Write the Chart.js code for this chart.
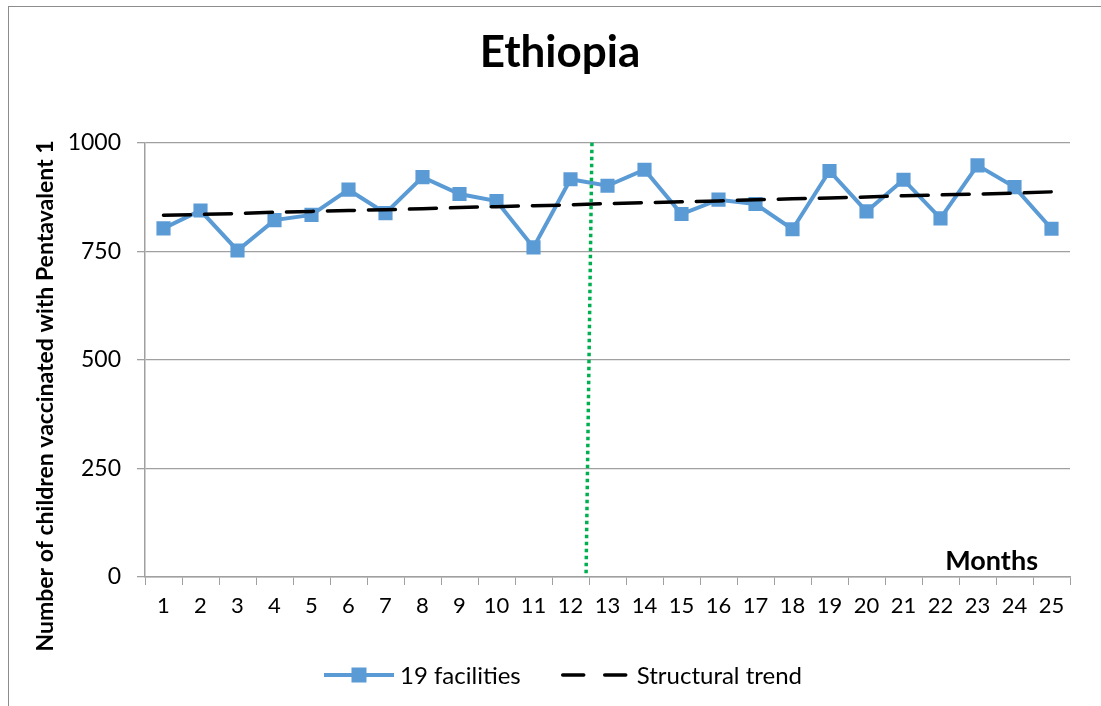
<!DOCTYPE html>
<html>
<head>
<meta charset="utf-8">
<script src="https://cdn.jsdelivr.net/npm/chart.js@4/dist/chart.umd.min.js"></script>
<style>
  html, body { margin: 0; padding: 0; background: #fff; overflow: hidden; }
  #frame { position: absolute; left: 8px; top: 6px; width: 1200px; height: 800px;
           border-top: 1.5px solid #8c8c8c; border-left: 1.5px solid #8c8c8c; pointer-events: none; }
  canvas { position: absolute; left: 0; top: 0; }
</style>
</head>
<body>
<canvas id="chart" width="1101" height="706"></canvas>
<div id="frame"></div>
<script>
const months = ['1','2','3','4','5','6','7','8','9','10','11','12','13',
                '14','15','16','17','18','19','20','21','22','23','24','25'];
const facilities = [803, 844, 752, 822, 834, 892, 838, 921, 882, 866, 759, 916, 901,
                    938, 836, 869, 859, 801, 935, 842, 915, 826, 948, 898, 802];
const structuralTrend = [833, 835, 837, 840, 842, 844, 846, 848, 851, 853, 855, 857, 860,
                         862, 864, 866, 869, 871, 873, 875, 878, 880, 882, 884, 887];
const yTicks = [0, 250, 500, 750, 1000];
// intervention line sits between month 12 and 13 (slightly slanted in the original)
const interventionTop = 12.58;
const interventionBottom = 12.42;

const FONT = 'Lato, "Open Sans", sans-serif';
const blue = '#5b9bd5';
const gray = '#a0a0a0';

// extra labels + legend drawn on the canvas
const annotations = {
    id: 'annotations',
    afterDatasetsDraw(chart) {
        const { ctx, scales } = chart;
        ctx.save();
        // green dotted intervention line
        const xTop = scales.x.getPixelForValue(interventionTop - 1);
        const xBot = scales.x.getPixelForValue(interventionBottom - 1);
        ctx.strokeStyle = '#00b050';
        ctx.lineWidth = 3.5;
        ctx.setLineDash([3.5, 3.5]);
        ctx.beginPath();
        ctx.moveTo(xTop, scales.y.getPixelForValue(1000));
        ctx.lineTo(xBot, scales.y.getPixelForValue(0));
        ctx.stroke();
        ctx.restore();
    },
    afterDraw(chart) {
        const { ctx, chartArea } = chart;
        ctx.save();
        ctx.fillStyle = '#000';

        // "Months" inside the plot
        ctx.font = 'bold 27px ' + FONT;
        ctx.textAlign = 'right';
        ctx.textBaseline = 'middle';
        ctx.fillText('Months', chartArea.right - 32, chartArea.bottom - 16);

        // y axis title
        ctx.save();
        ctx.translate(46, 396);
        ctx.rotate(-Math.PI / 2);
        ctx.textAlign = 'center';
        ctx.font = 'bold 23px ' + FONT;
        ctx.fillText('Number of children vaccinated with Pentavalent 1', 0, 0);
        ctx.restore();

        // legend
        const ds = chart.data.datasets;
        ctx.font = '24px ' + FONT;
        ctx.textAlign = 'left';
        const sample = 70, gap = 6, spacing = 40;
        const w0 = sample + gap + ctx.measureText(ds[0].label).width;
        const w1 = sample + gap + ctx.measureText(ds[1].label).width;
        let x = 563 - (w0 + spacing + w1) / 2;
        const y = 675;

        ctx.strokeStyle = ds[0].borderColor;
        ctx.lineWidth = ds[0].borderWidth;
        ctx.beginPath();
        ctx.moveTo(x, y);
        ctx.lineTo(x + sample, y);
        ctx.stroke();
        ctx.fillStyle = ds[0].pointBackgroundColor;
        ctx.fillRect(x + sample / 2 - 7.5, y - 7.5, 15, 15);
        ctx.fillStyle = '#000';
        ctx.fillText(ds[0].label, x + sample + gap, y + 1);

        x += w0 + spacing;
        ctx.strokeStyle = ds[1].borderColor;
        ctx.lineWidth = ds[1].borderWidth;
        ctx.lineCap = 'round';
        ctx.setLineDash([21, 21]);
        ctx.beginPath();
        ctx.moveTo(x + 2, y);
        ctx.lineTo(x + sample - 2, y);
        ctx.stroke();
        ctx.fillText(ds[1].label, x + sample + gap, y + 1);
        ctx.restore();
    }
};

new Chart(document.getElementById('chart'), {
    type: 'line',
    data: {
        labels: months,
        datasets: [
            {
                label: '19 facilities',
                data: facilities,
                borderColor: blue,
                borderWidth: 4,
                pointStyle: 'rect',
                pointRadius: 10,
                pointBackgroundColor: blue,
                pointBorderColor: blue,
                pointBorderWidth: 0,
                tension: 0,
                order: 2
            },
            {
                label: 'Structural trend',
                data: structuralTrend,
                borderColor: '#000',
                borderWidth: 3.5,
                borderDash: [27, 14],
                borderCapStyle: 'round',
                pointRadius: 0,
                tension: 0,
                order: 1
            }
        ]
    },
    options: {
        responsive: false,
        animation: false,
        layout: { padding: { left: 50, right: 31, top: 0, bottom: 79 } },
        plugins: {
            legend: { display: false },
            tooltip: { enabled: false },
            title: {
                display: true,
                text: 'Ethiopia',
                color: '#000',
                font: { family: FONT, size: 44, weight: 'bold', lineHeight: 1.2 },
                padding: { top: 26, bottom: 64 }
            }
        },
        scales: {
            x: {
                offset: true,
                afterFit: s => { s.height = 50; },
                grid: {
                    offset: true,
                    drawOnChartArea: false,
                    drawTicks: true,
                    tickLength: 8,
                    color: gray
                },
                border: { color: gray, width: 1.5 },
                ticks: {
                    color: '#000',
                    padding: 8,
                    maxRotation: 0,
                    autoSkip: false,
                    font: { family: FONT, size: 22 }
                }
            },
            y: {
                min: 0,
                max: 1000,
                afterFit: s => { s.width = 95; },
                afterBuildTicks: s => { s.ticks = yTicks.map(v => ({ value: v })); },
                grid: { color: gray, lineWidth: 1.3, tickLength: 8 },
                border: { color: gray, width: 1.5 },
                ticks: {
                    color: '#000',
                    padding: 16,
                    callback: v => String(v),
                    font: { family: FONT, size: 23 }
                }
            }
        }
    },
    plugins: [annotations]
});
</script>
</body>
</html>
